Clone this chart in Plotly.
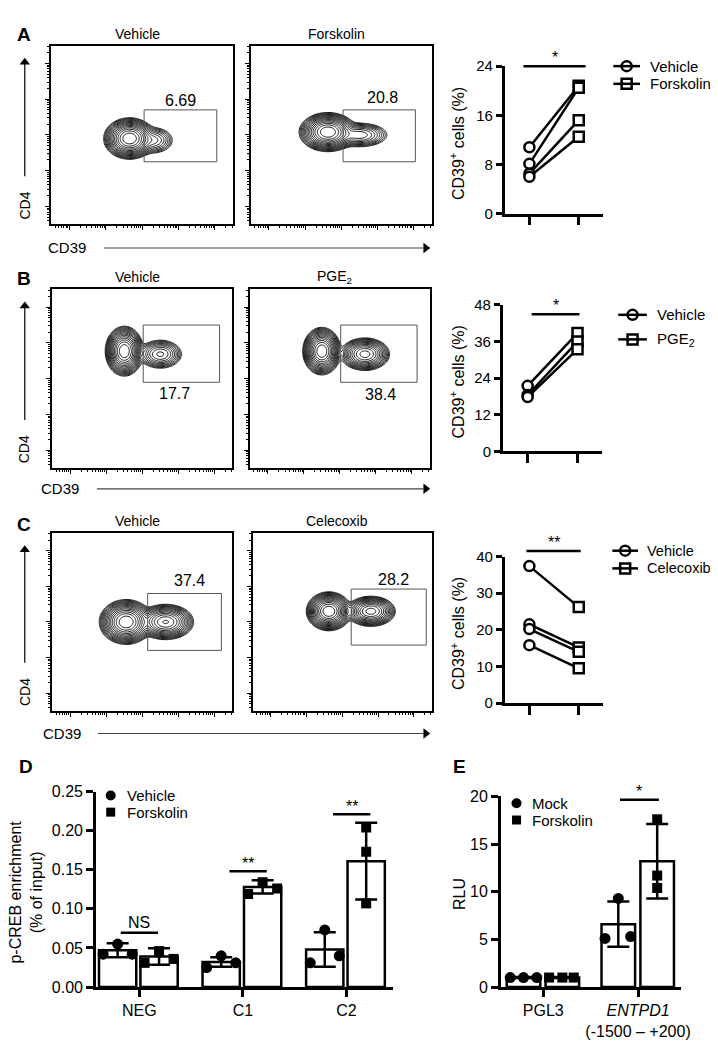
import numpy as np
import plotly.graph_objects as go

W, H = 718, 1051
FONT = "Liberation Sans, Arial, sans-serif"

# ---------------- data ----------------
# Flow plots (A-C): titles, gate percentages
flow_titles = ["Vehicle", "Forskolin", "Vehicle", "PGE<sub>2</sub>", "Vehicle", "Celecoxib"]
gate_pct = ["6.69", "20.8", "17.7", "38.4", "37.4", "28.2"]
# density blobs: (cx, cy, sx, sy, weight) in axis fractions
flow_blobs = [
    [(0.43, 0.48, 0.043, 0.035, 1.0), (0.56, 0.47, 0.045, 0.030, 0.06)],
    [(0.426, 0.516, 0.048, 0.033, 1.0), (0.60, 0.50, 0.060, 0.026, 0.10)],
    [(0.40, 0.654, 0.032, 0.042, 1.0), (0.60, 0.637, 0.045, 0.030, 0.12)],
    [(0.40, 0.654, 0.032, 0.040, 1.0), (0.64, 0.637, 0.045, 0.030, 0.40)],
    [(0.41, 0.50, 0.045, 0.038, 1.0), (0.63, 0.50, 0.050, 0.032, 0.50)],
    [(0.425, 0.56, 0.038, 0.033, 1.0), (0.66, 0.56, 0.045, 0.028, 0.40)],
]
# gates: (x0, y0, x1, y1) in axis fractions, label position
flow_gates = [(0.51, 0.35, 0.91, 0.64), (0.51, 0.35, 0.91, 0.64),
              (0.505, 0.48, 0.93, 0.80), (0.505, 0.48, 0.93, 0.80),
              (0.53, 0.34, 0.94, 0.66), (0.55, 0.37, 0.97, 0.685)]
gate_label_pos = [(0.71, 0.69), (0.73, 0.71), (0.68, 0.42), (0.725, 0.41), (0.76, 0.735), (0.785, 0.74)]

# Paired CD39+ (%) data
a_vehicle = [10.8, 8.1, 6.5, 6.0]
a_forskolin = [20.8, 20.5, 15.2, 12.5]
b_vehicle = [21.5, 18.5, 17.8]
b_pge2 = [38.8, 36.0, 33.5]
c_vehicle = [37.4, 21.5, 20.2, 15.8]
c_celecoxib = [26.2, 15.2, 14.0, 9.5]
paired_labels = [("Vehicle", "Forskolin"), ("Vehicle", "PGE<sub>2</sub>"), ("Vehicle", "Celecoxib")]
paired_ticks = [[0, 8, 16, 24], [0, 12, 24, 36, 48], [0, 10, 20, 30, 40]]
paired_sig = ["*", "*", "**"]

# Panel D: p-CREB ChIP
d_cats = ["NEG", "C1", "C2"]
d_veh_pts = [[0.042, 0.055, 0.042], [0.025, 0.040, 0.031], [0.031, 0.073, 0.040]]
d_fsk_pts = [[0.031, 0.046, 0.036], [0.119, 0.134, 0.126], [0.204, 0.173, 0.107]]
d_veh_mean = [0.047, 0.032, 0.048]
d_veh_sd = [0.009, 0.006, 0.022]
d_fsk_mean = [0.039, 0.128, 0.161]
d_fsk_sd = [0.0105, 0.0085, 0.049]
d_sig = ["NS", "**", "**"]
d_sig_y = [0.0695, 0.148, 0.221]

# Panel E: luciferase
e_cats = ["PGL3", "<i>ENTPD1</i><br>(-1500 – +200)"]
e_mock_pts = [[1.0, 1.0, 1.0], [5.1, 9.3, 5.3]]
e_fsk_pts = [[1.0, 1.0, 1.0], [17.6, 11.7, 10.4]]
e_mock_mean = [1.0, 6.6]
e_mock_sd = [0.05, 2.37]
e_fsk_mean = [1.0, 13.2]
e_fsk_sd = [0.05, 3.9]
e_sig = ["*"]
e_sig_y = [19.66]

# ---------------- geometry (pixels) ----------------
flow_boxes = [(44, 29, 228, 211), (246, 29, 429, 211), (45, 277, 227, 459),
              (245, 277, 427, 459), (45, 525, 227, 706), (248, 525, 429, 706)]
paired_boxes = [dict(l=503, t=50, r=603, b=200, yr=(0, 24)),
                dict(l=501, t=293, r=602, b=442, yr=(0, 48)),
                dict(l=503, t=549, r=603, b=698, yr=(0, 40))]
for c in paired_boxes:
    c["xr"] = (-0.5, 1.5)
D = dict(l=89, t=788, r=390, b=987, xr=(-0.42, 2.45), yr=(0, 0.25))
E = dict(l=499, t=793, r=682, b=987, xr=(-0.448, 1.458), yr=(0, 20))


def dom(l, t, r, b):
    return [l / W, r / W], [1 - b / H, 1 - t / H]


def px(x):
    return x / W


def py(y):
    return 1 - y / H


def dxp(c, v):
    x0, x1 = c["xr"]
    return (c["l"] + (v - x0) / (x1 - x0) * (c["r"] - c["l"])) / W


def dyp(c, v):
    y0, y1 = c["yr"]
    return 1 - (c["b"] - (v - y0) / (y1 - y0) * (c["b"] - c["t"])) / H


def dy_px(c, v):
    y0, y1 = c["yr"]
    return c["b"] - (v - y0) / (y1 - y0) * (c["b"] - c["t"])


fig = go.Figure()
layout = dict(width=W, height=H, margin=dict(l=0, r=0, t=0, b=0),
              paper_bgcolor="white", plot_bgcolor="rgba(0,0,0,0)",
              showlegend=False, font=dict(family=FONT, color="black"),
              barmode="overlay")
annotations = []
shapes = []
overlay_marks = []  # (x, y, symbol, size, fill, linewidth) in page pixels


def ann(x, y, text, size=15, xanchor="center", yanchor="middle", angle=0, **kw):
    annotations.append(dict(x=px(x), y=py(y), xref="paper", yref="paper", text=text,
                            showarrow=False, xanchor=xanchor, yanchor=yanchor,
                            textangle=angle, font=dict(size=size, family=FONT, color="black"), **kw))


def pline(x0, y0, x1, y1, color="black", width=2.5):
    shapes.append(dict(type="line", xref="paper", yref="paper", x0=px(x0), y0=py(y0),
                       x1=px(x1), y1=py(y1), line=dict(color=color, width=width)))


# ---------------- flow plots ----------------
major = [0.1, 0.3, 0.5, 0.7, 0.9]
minor = []
for k in range(6):
    for m in range(2, 10):
        v = 0.1 + 0.2 * (k - 1) + 0.2 * np.log10(m)
        if 0 < v < 1:
            minor.append(float(v))

gx = np.linspace(0, 1, 170)
gy = np.linspace(0, 1, 170)
GX, GY = np.meshgrid(gx, gy)

for i, box in enumerate(flow_boxes):
    n = i + 1
    xd, yd = dom(*box)
    axcfg = dict(range=[0, 1], showline=True, mirror=True, linewidth=2, linecolor="black",
                 ticks="outside", tickvals=major, ticklen=4, tickwidth=1, tickcolor="black",
                 showticklabels=False, showgrid=False, zeroline=False, fixedrange=True,
                 minor=dict(tickmode="array", tickvals=minor, ticklen=2, tickwidth=1,
                            ticks="outside", tickcolor="black", showgrid=False))
    layout[f"xaxis{n}"] = dict(domain=xd, anchor=f"y{n}", **axcfg)
    layout[f"yaxis{n}"] = dict(domain=yd, anchor=f"x{n}", **axcfg)
    z = np.zeros_like(GX)
    for cx, cy, sx, sy, w in flow_blobs[i]:
        z += w * np.exp(-((GX - cx) ** 2 / (2 * sx ** 2) + (GY - cy) ** 2 / (2 * sy ** 2)))
    z = np.log10(np.maximum(z / z.max(), 1e-6))
    fig.add_trace(go.Contour(x=gx, y=gy, z=z, xaxis=f"x{n}", yaxis=f"y{n}",
                             contours=dict(coloring="lines", start=-2.4, end=-0.03, size=0.16),
                             line=dict(width=0.9), colorscale=[[0, "black"], [1, "black"]],
                             showscale=False, hoverinfo="skip"))
    g = flow_gates[i]
    shapes.append(dict(type="rect", xref=f"x{n}", yref=f"y{n}", x0=g[0], y0=g[1], x1=g[2], y1=g[3],
                       line=dict(color="#555555", width=1)))
    lx, ly = gate_label_pos[i]
    annotations.append(dict(x=lx, y=ly, xref=f"x{n}", yref=f"y{n}", text=gate_pct[i], showarrow=False,
                            font=dict(size=16, family=FONT, color="black")))
    l, t, r, b = box
    ann((l + r) / 2 - 5, t - 12, flow_titles[i], size=14)

# row decorations: letters, CD4 arrows, CD39 arrows
row_tops = [29, 277, 525]
row_bottoms = [211, 459, 706]
letters = ["A", "B", "C"]
letter_y = [18, 266, 516]
cd39_y = [235, 480, 729]
cd39_x = [60, 53, 55]
cd39_tail = [97, 90, 91]
for r_ in range(3):
    ann(16, letter_y[r_], "<b>" + letters[r_] + "</b>", size=19)
    t, b = row_tops[r_], row_bottoms[r_]
    pline(17, b - 49, 17, t + 18, color="black", width=1.2)
    overlay_marks.append((17, t + 17, "triangle-up", 9, "black", 0))
    ann(17, b - 19, "CD4", size=14, angle=-90)
    ann(cd39_x[r_], cd39_y[r_], "CD39", size=15)
    pline(cd39_tail[r_], cd39_y[r_], 421, cd39_y[r_], color="#444444", width=1.2)
    overlay_marks.append((423, cd39_y[r_], "triangle-right", 9, "black", 0))

# ---------------- paired charts ----------------
paired_data = [(a_vehicle, a_forskolin), (b_vehicle, b_pge2), (c_vehicle, c_celecoxib)]
paired_sig_y = [24, 45, 41.5]
paired_sig_x = [(-0.12, 1.14), (0.08, 1.04), (-0.06, 1.04)]
legend_x = [(613, 640, 648), (618, 647, 655), (612, 638, 645)]
legend_y = [(50, 68), (303, 328), (543, 561)]
legend_size = [15, 15, 14.5]

for k, c in enumerate(paired_boxes):
    n = 7 + k
    xd, yd = dom(c["l"], c["t"], c["r"], c["b"])
    layout[f"xaxis{n}"] = dict(domain=xd, anchor=f"y{n}", range=list(c["xr"]), showline=True,
                               linewidth=2.5, linecolor="black", ticks="outside", tickvals=[0, 1],
                               showticklabels=False, ticklen=9, tickwidth=2.5, tickcolor="black",
                               showgrid=False, zeroline=False, fixedrange=True)
    layout[f"yaxis{n}"] = dict(domain=yd, anchor=f"x{n}", range=list(c["yr"]), showline=True,
                               linewidth=2.5, linecolor="black", ticks="outside",
                               tickvals=paired_ticks[k], ticklen=6, tickwidth=2.5, tickcolor="black",
                               tickfont=dict(size=15, family=FONT), showgrid=False, zeroline=False,
                               fixedrange=True)
    veh, trt = paired_data[k]
    for v, t_ in zip(veh, trt):
        fig.add_trace(go.Scatter(x=[0, 1], y=[v, t_], mode="lines+markers", xaxis=f"x{n}", yaxis=f"y{n}",
                                 line=dict(color="black", width=2.5),
                                 marker=dict(symbol=["circle", "square"], size=10, color="white",
                                             line=dict(color="black", width=2.5)),
                                 cliponaxis=False, hoverinfo="skip"))
    # significance
    sx0, sx1 = paired_sig_x[k]
    sy = paired_sig_y[k]
    shapes.append(dict(type="line", xref="paper", yref="paper", x0=dxp(c, sx0), x1=dxp(c, sx1),
                       y0=dyp(c, sy), y1=dyp(c, sy), line=dict(color="black", width=2.5)))
    ann((dxp(c, sx0) + dxp(c, sx1)) / 2 * W, dy_px(c, sy) - 9, paired_sig[k], size=16)
    # y title
    ann(455, (c["t"] + c["b"]) / 2 + 4, "CD39<sup>+</sup> cells (%)", size=16, angle=-90)
    # legend
    lx0, lx1, tx = legend_x[k]
    for j, yy in enumerate(legend_y[k]):
        ann(tx, yy, paired_labels[k][j], size=legend_size[k], xanchor="left")
        pline(lx0, yy, lx1, yy, width=2.5)
        overlay_marks.append(((lx0 + lx1) / 2, yy, ["circle", "square"][j], 10, "white", 2.5))


# ---------------- bar charts D & E ----------------
def bar_panel(n, c, cats, means, sds, pts, jit, offsets, width, ticks, tickfmt, symbols, sizes):
    xd, yd = dom(c["l"], c["t"], c["r"], c["b"])
    layout[f"xaxis{n}"] = dict(domain=xd, anchor=f"y{n}", range=list(c["xr"]), showline=True,
                               linewidth=2.5, linecolor="black", ticks="outside",
                               tickvals=list(range(len(cats))), ticktext=cats, ticklen=7, tickwidth=2.5,
                               tickcolor="black", tickfont=dict(size=16, family=FONT), showgrid=False,
                               zeroline=False, fixedrange=True)
    layout[f"yaxis{n}"] = dict(domain=yd, anchor=f"x{n}", range=list(c["yr"]), showline=True,
                               linewidth=2.5, linecolor="black", ticks="outside", tickvals=ticks,
                               tickformat=tickfmt, ticklen=7, tickwidth=2.5, tickcolor="black",
                               tickfont=dict(size=16, family=FONT), showgrid=False, zeroline=False,
                               fixedrange=True)
    xs = list(range(len(cats)))
    for g in range(2):
        fig.add_trace(go.Bar(x=xs, y=means[g], width=width, offset=offsets[g], xaxis=f"x{n}", yaxis=f"y{n}",
                             textposition="none",
                             marker=dict(color="white", line=dict(color="black", width=2.5)),
                             error_y=dict(type="data", array=sds[g], visible=True, color="black",
                                          thickness=2.5, width=11), hoverinfo="skip"))
        for ci in xs:
            center = ci + offsets[g] + width / 2
            fig.add_trace(go.Scatter(x=[center + j for j in jit[g][ci]], y=pts[g][ci], mode="markers",
                                     xaxis=f"x{n}", yaxis=f"y{n}", cliponaxis=False,
                                     marker=dict(symbol=symbols[g], size=sizes[g], color="black"),
                                     hoverinfo="skip"))


bar_panel(10, D, d_cats, [d_veh_mean, d_fsk_mean], [d_veh_sd, d_fsk_sd], [d_veh_pts, d_fsk_pts],
          [[[-0.14, 0, 0.14]] * 3, [[-0.14, 0, 0.14], [-0.14, 0, 0.14], [0, 0, 0]]],
          [-0.39, 0.01], 0.36, [0, 0.05, 0.10, 0.15, 0.20, 0.25], ".2f", ["circle", "square"], [11, 10])
bar_panel(11, E, e_cats, [e_mock_mean, e_fsk_mean], [e_mock_sd, e_fsk_sd], [e_mock_pts, e_fsk_pts],
          [[[-0.14, 0, 0.14], [-0.14, 0, 0.13]], [[-0.14, 0, 0.12], [0, 0, 0]]],
          [-0.385, 0.025], 0.354, [0, 5, 10, 15, 20], "d", ["circle", "square"], [11, 10])

# significance D
d_sig_x = [(-0.18, 0.18), (-0.13, 0.23), (-0.13, 0.23)]
for i, s in enumerate(d_sig):
    x0, x1 = d_sig_x[i]
    shapes.append(dict(type="line", xref="paper", yref="paper", x0=dxp(D, i + x0), x1=dxp(D, i + x1),
                       y0=dyp(D, d_sig_y[i]), y1=dyp(D, d_sig_y[i]), line=dict(color="black", width=2.5)))
    ann((dxp(D, i + x0) + dxp(D, i + x1)) / 2 * W, dy_px(D, d_sig_y[i]) - (10 if s == "NS" else 8), s,
        size=16)
# significance E
shapes.append(dict(type="line", xref="paper", yref="paper", x0=dxp(E, 1 - 0.19), x1=dxp(E, 1 + 0.22),
                   y0=dyp(E, e_sig_y[0]), y1=dyp(E, e_sig_y[0]), line=dict(color="black", width=2.5)))
ann((dxp(E, 1 - 0.19) + dxp(E, 1 + 0.22)) / 2 * W, dy_px(E, e_sig_y[0]) - 8, e_sig[0], size=16)

# titles / letters / legends for D and E
ann(18, 763, "<b>D</b>", size=19)
ann(457, 763, "<b>E</b>", size=19)
ann(18, 890, "p-CREB enrichment<br>(% of input)", size=16, angle=-90)
ann(457, 892, "RLU", size=16, angle=-90)
ann(118, 792, "Vehicle", size=15, xanchor="left")
ann(118, 809, "Forskolin", size=15, xanchor="left")
ann(529, 800, "Mock", size=15, xanchor="left")
ann(529, 817, "Forskolin", size=15, xanchor="left")
overlay_marks += [(104, 792, "circle", 10, "black", 0), (104, 809, "square", 9, "black", 0),
                  (515, 800, "circle", 10, "black", 0), (515, 817, "square", 9, "black", 0)]

# page-pixel overlay axis for legend glyphs and arrowheads
layout["xaxis12"] = dict(domain=[0, 1], range=[0, W], visible=False, fixedrange=True, anchor="y12")
layout["yaxis12"] = dict(domain=[0, 1], range=[H, 0], visible=False, fixedrange=True, anchor="x12")
for (mx, my, sym, sz, fill, lw) in overlay_marks:
    fig.add_trace(go.Scatter(x=[mx], y=[my], mode="markers", xaxis="x12", yaxis="y12", cliponaxis=False,
                             marker=dict(symbol=sym, size=sz, color=fill,
                                         line=dict(color="black", width=lw)), hoverinfo="skip"))

layout["annotations"] = annotations
layout["shapes"] = shapes
fig.update_layout(**layout)
fig.write_html("out.html")
